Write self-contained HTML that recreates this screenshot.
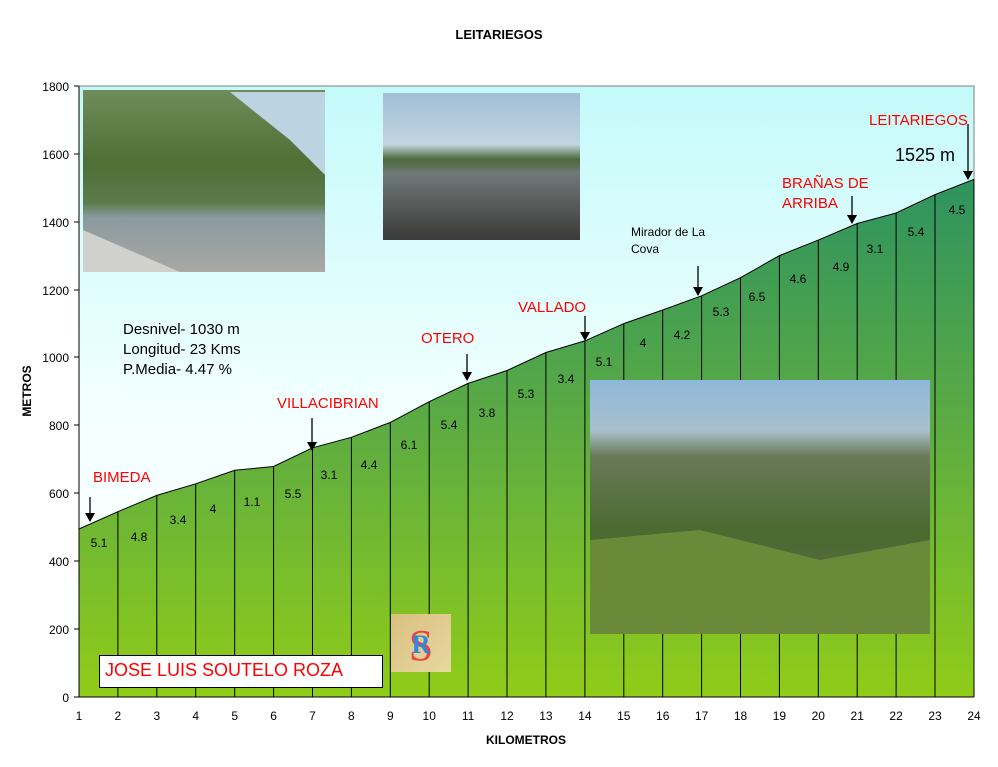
<!DOCTYPE html>
<html><head><meta charset="utf-8"><style>
html,body{margin:0;padding:0;background:#fff;}
svg{display:block;font-family:"Liberation Sans",sans-serif;}
</style></head><body>
<svg width="998" height="767" viewBox="0 0 998 767" xmlns="http://www.w3.org/2000/svg">
<defs>
<linearGradient id="sky" x1="0" y1="0" x2="0" y2="1">
<stop offset="0" stop-color="#c4fafa"/><stop offset="0.55" stop-color="#f4ffff"/><stop offset="1" stop-color="#ffffff"/>
</linearGradient>
<linearGradient id="gr" gradientUnits="userSpaceOnUse" x1="0" y1="180" x2="0" y2="697">
<stop offset="0" stop-color="#2e935f"/><stop offset="0.45" stop-color="#5aaa45"/><stop offset="1" stop-color="#90cc18"/>
</linearGradient>
<linearGradient id="p1" x1="0" y1="0" x2="0" y2="1">
<stop offset="0" stop-color="#6f8c5a"/><stop offset="0.4" stop-color="#4d7035"/><stop offset="0.62" stop-color="#5d7a4a"/><stop offset="0.7" stop-color="#8a9aa0"/><stop offset="1" stop-color="#a8a8a4"/>
</linearGradient>
<linearGradient id="p2" x1="0" y1="0" x2="0" y2="1">
<stop offset="0" stop-color="#9fbfd8"/><stop offset="0.35" stop-color="#c4d4e0"/><stop offset="0.45" stop-color="#4c6a3a"/><stop offset="0.55" stop-color="#707878"/><stop offset="1" stop-color="#3a3a38"/>
</linearGradient>
<linearGradient id="p3" x1="0" y1="0" x2="0" y2="1">
<stop offset="0" stop-color="#8fb8dc"/><stop offset="0.2" stop-color="#a8c0cc"/><stop offset="0.3" stop-color="#6a7a58"/><stop offset="0.6" stop-color="#4a6a30"/><stop offset="1" stop-color="#6a6a50"/>
</linearGradient>
<linearGradient id="lg" x1="0" y1="0" x2="1" y2="1">
<stop offset="0" stop-color="#d8c080"/><stop offset="1" stop-color="#e8d8a0"/>
</linearGradient>
</defs>
<text x="499" y="39" text-anchor="middle" font-size="13" font-weight="bold">LEITARIEGOS</text>
<rect x="79" y="86" width="895" height="611" fill="url(#sky)" stroke="#808080" stroke-width="1"/>
<polygon fill="url(#gr)" points="79,697 79,529 117.9,511.7 156.8,495.4 195.7,483.8 234.7,470.3 273.6,466.5 312.5,447.8 351.4,437.3 390.3,422.4 429.2,401.7 468.1,383.4 507,370.5 545.9,352.5 584.9,340.9 623.8,323.6 662.7,310 701.6,295.8 740.5,277.7 779.4,255.6 818.3,240.1 857.2,223.5 896.1,213 935,194.6 974,179.3 974,697"/>
<polyline fill="none" stroke="#000" stroke-width="1" points="79,529 117.9,511.7 156.8,495.4 195.7,483.8 234.7,470.3 273.6,466.5 312.5,447.8 351.4,437.3 390.3,422.4 429.2,401.7 468.1,383.4 507,370.5 545.9,352.5 584.9,340.9 623.8,323.6 662.7,310 701.6,295.8 740.5,277.7 779.4,255.6 818.3,240.1 857.2,223.5 896.1,213 935,194.6 974,179.3"/>
<g stroke="#000" stroke-width="1">
<line x1="117.9" y1="511.7" x2="117.9" y2="697"/><line x1="156.8" y1="495.4" x2="156.8" y2="697"/><line x1="195.7" y1="483.8" x2="195.7" y2="697"/><line x1="234.7" y1="470.3" x2="234.7" y2="697"/><line x1="273.6" y1="466.5" x2="273.6" y2="697"/><line x1="312.5" y1="447.8" x2="312.5" y2="697"/><line x1="351.4" y1="437.3" x2="351.4" y2="697"/><line x1="390.3" y1="422.4" x2="390.3" y2="697"/><line x1="429.2" y1="401.7" x2="429.2" y2="697"/><line x1="468.1" y1="383.4" x2="468.1" y2="697"/><line x1="507" y1="370.5" x2="507" y2="697"/><line x1="545.9" y1="352.5" x2="545.9" y2="697"/><line x1="584.9" y1="340.9" x2="584.9" y2="697"/><line x1="623.8" y1="323.6" x2="623.8" y2="697"/><line x1="662.7" y1="310" x2="662.7" y2="697"/><line x1="701.6" y1="295.8" x2="701.6" y2="697"/><line x1="740.5" y1="277.7" x2="740.5" y2="697"/><line x1="779.4" y1="255.6" x2="779.4" y2="697"/><line x1="818.3" y1="240.1" x2="818.3" y2="697"/><line x1="857.2" y1="223.5" x2="857.2" y2="697"/><line x1="896.1" y1="213" x2="896.1" y2="697"/><line x1="935" y1="194.6" x2="935" y2="697"/><line x1="974" y1="179.3" x2="974" y2="697"/>
<line x1="79" y1="86" x2="79" y2="697"/><line x1="79" y1="697" x2="974" y2="697"/>
</g>
<g stroke="#000" stroke-width="1">
<line x1="74" y1="86" x2="79" y2="86"/><line x1="74" y1="154" x2="79" y2="154"/><line x1="74" y1="222" x2="79" y2="222"/><line x1="74" y1="290" x2="79" y2="290"/><line x1="74" y1="357" x2="79" y2="357"/><line x1="74" y1="425" x2="79" y2="425"/><line x1="74" y1="493" x2="79" y2="493"/><line x1="74" y1="561" x2="79" y2="561"/><line x1="74" y1="629" x2="79" y2="629"/><line x1="74" y1="697" x2="79" y2="697"/>
</g>
<g font-size="12" text-anchor="end">
<text x="69" y="91">1800</text><text x="69" y="159">1600</text><text x="69" y="227">1400</text><text x="69" y="295">1200</text><text x="69" y="362">1000</text><text x="69" y="430">800</text><text x="69" y="498">600</text><text x="69" y="566">400</text><text x="69" y="634">200</text><text x="69" y="702">0</text>
</g>
<g font-size="12" text-anchor="middle">
<text x="79" y="720">1</text><text x="117.9" y="720">2</text><text x="156.8" y="720">3</text><text x="195.7" y="720">4</text><text x="234.7" y="720">5</text><text x="273.6" y="720">6</text><text x="312.5" y="720">7</text><text x="351.4" y="720">8</text><text x="390.3" y="720">9</text><text x="429.2" y="720">10</text><text x="468.1" y="720">11</text><text x="507" y="720">12</text><text x="545.9" y="720">13</text><text x="584.9" y="720">14</text><text x="623.8" y="720">15</text><text x="662.7" y="720">16</text><text x="701.6" y="720">17</text><text x="740.5" y="720">18</text><text x="779.4" y="720">19</text><text x="818.3" y="720">20</text><text x="857.2" y="720">21</text><text x="896.1" y="720">22</text><text x="935" y="720">23</text><text x="974" y="720">24</text>
</g>
<text x="526" y="744" text-anchor="middle" font-size="12" font-weight="bold">KILOMETROS</text>
<text transform="translate(31,391) rotate(-90)" text-anchor="middle" font-size="12" font-weight="bold">METROS</text>
<g font-size="12" text-anchor="middle">
<text x="99" y="547">5.1</text><text x="139" y="541">4.8</text><text x="178" y="524">3.4</text><text x="213" y="513">4</text><text x="252" y="506">1.1</text><text x="293" y="498">5.5</text><text x="329" y="479">3.1</text><text x="369" y="469">4.4</text><text x="409" y="449">6.1</text><text x="449" y="429">5.4</text><text x="487" y="417">3.8</text><text x="526" y="398">5.3</text><text x="566" y="383">3.4</text><text x="604" y="366">5.1</text><text x="643" y="347">4</text><text x="682" y="339">4.2</text><text x="721" y="316">5.3</text><text x="757" y="301">6.5</text><text x="798" y="283">4.6</text><text x="841" y="271">4.9</text><text x="875" y="253">3.1</text><text x="916" y="236">5.4</text><text x="957" y="214">4.5</text>
</g>
<g stroke="#000" stroke-width="1.3">
<line x1="90" y1="497" x2="90" y2="514"/><line x1="312" y1="418" x2="312" y2="443"/><line x1="467" y1="354" x2="467" y2="373"/><line x1="585" y1="316" x2="585" y2="333"/><line x1="698" y1="266" x2="698" y2="288"/><line x1="852" y1="196" x2="852" y2="216"/><line x1="968" y1="124" x2="968" y2="172"/>
</g>
<g fill="#000">
<polygon points="85,513 95,513 90,522"/><polygon points="307,442 317,442 312,451"/><polygon points="462,372 472,372 467,381"/><polygon points="580,332 590,332 585,341"/><polygon points="693,287 703,287 698,296"/><polygon points="847,215 857,215 852,224"/><polygon points="963,171 973,171 968,180"/>
</g>
<g font-size="15" fill="#ff0000">
<text x="93" y="482">BIMEDA</text><text x="277" y="408">VILLACIBRIAN</text><text x="421" y="343">OTERO</text><text x="518" y="312">VALLADO</text><text x="782" y="188">BRAÑAS DE</text><text x="782" y="208">ARRIBA</text><text x="869" y="125">LEITARIEGOS</text>
</g>
<text x="631" y="236" font-size="12">Mirador de La</text>
<text x="631" y="253" font-size="12">Cova</text>
<text x="895" y="161" font-size="18">1525 m</text>
<g font-size="15">
<text x="123" y="334">Desnivel- 1030 m</text><text x="123" y="354">Longitud- 23 Kms</text><text x="123" y="374">P.Media- 4.47 %</text>
</g>
<rect x="83" y="90" width="242" height="182" fill="url(#p1)"/>
<polygon points="83,230 83,272 180,272" fill="#d0d0cc"/>
<polygon points="230,92 325,92 325,175 290,140" fill="#bcd4e2"/>
<rect x="383" y="93" width="197" height="147" fill="url(#p2)"/>
<rect x="590" y="380" width="340" height="254" fill="url(#p3)"/>
<polygon points="590,540 700,530 820,560 930,540 930,634 590,634" fill="#6a8a3a"/>
<rect x="391" y="614" width="60" height="58" fill="url(#lg)"/>
<text x="421" y="660" text-anchor="middle" font-size="44" fill="#ee4040" font-family="Liberation Serif,serif">S</text>
<text x="421" y="653" text-anchor="middle" font-size="26" font-weight="bold" fill="#2a8ae0" font-family="Liberation Serif,serif">R</text>
<rect x="99.5" y="655.5" width="283" height="32" fill="#fff" stroke="#000"/>
<text x="105" y="676" font-size="18" fill="#ff0000">JOSE LUIS SOUTELO ROZA</text>
</svg>
</body></html>
